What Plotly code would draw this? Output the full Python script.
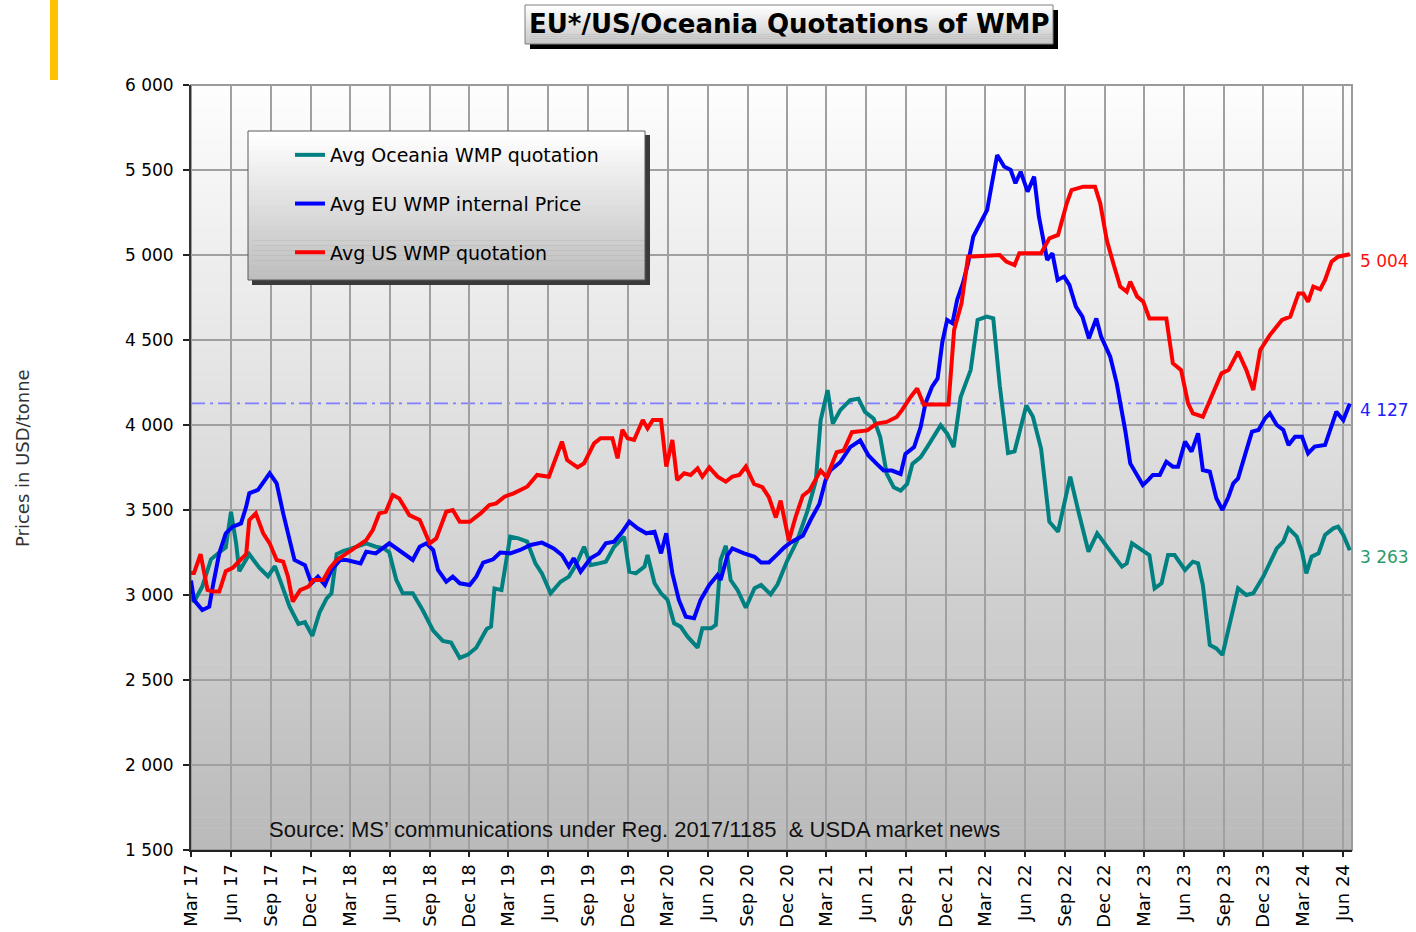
import plotly.graph_objects as go

# ---------------- data ----------------
oce_dates = ["2017-03-01","2017-03-08","2017-03-27","2017-04-16","2017-05-05","2017-05-20","2017-06-01","2017-06-13","2017-06-20","2017-07-13",
             "2017-08-05","2017-08-25","2017-09-10","2017-09-25","2017-10-14","2017-11-03","2017-11-18","2017-12-05","2017-12-22","2018-01-07",
             "2018-01-18","2018-01-30","2018-02-15","2018-03-01","2018-04-08","2018-04-30","2018-05-19","2018-05-31","2018-06-16","2018-07-01",
             "2018-07-24","2018-08-16","2018-09-09","2018-10-01","2018-10-20","2018-11-09","2018-11-28","2018-12-17","2019-01-10","2019-01-20",
             "2019-01-28","2019-02-13","2019-03-05","2019-03-24","2019-04-13","2019-05-02","2019-05-17","2019-06-06","2019-06-29","2019-07-18",
             "2019-08-03","2019-08-22","2019-09-06","2019-09-25","2019-10-11","2019-10-30","2019-11-22","2019-12-04","2019-12-19","2020-01-08",
             "2020-01-15","2020-01-31","2020-02-15","2020-03-01","2020-03-16","2020-03-31","2020-04-16","2020-05-09","2020-05-20","2020-06-09",
             "2020-06-20","2020-07-01","2020-07-13","2020-07-24","2020-08-09","2020-08-28","2020-09-17","2020-10-02","2020-10-24","2020-11-09",
             "2020-12-01","2020-12-24","2021-01-17","2021-02-05","2021-02-16","2021-03-04","2021-03-16","2021-04-02","2021-04-25","2021-05-14",
             "2021-05-29","2021-06-18","2021-07-03","2021-07-18","2021-08-03","2021-08-19","2021-09-03","2021-09-15","2021-10-04","2021-10-19",
             "2021-11-04","2021-11-19","2021-12-04","2021-12-19","2022-01-04","2022-01-27","2022-02-12","2022-03-05","2022-03-20","2022-04-04",
             "2022-04-23","2022-05-08","2022-06-04","2022-06-19","2022-07-08","2022-07-27","2022-08-16","2022-09-13","2022-10-02","2022-10-25",
             "2022-11-14","2022-11-29","2022-12-18","2023-01-10","2023-01-21","2023-02-02","2023-02-21","2023-03-14","2023-03-26","2023-04-11",
             "2023-04-26","2023-05-11","2023-06-04","2023-06-22","2023-07-04","2023-07-15","2023-07-31","2023-08-15","2023-08-29","2023-09-16",
             "2023-10-04","2023-10-23","2023-11-08","2023-12-01","2024-01-01","2024-01-16","2024-01-28","2024-02-16","2024-02-28","2024-03-09",
             "2024-03-21","2024-04-06","2024-04-21","2024-05-10","2024-05-21","2024-06-02","2024-06-17"]
oce_vals = [2990,2960,3050,3210,3250,3280,3490,3300,3140,3240,
            3160,3110,3170,3070,2930,2830,2840,2760,2900,2980,
            3010,3240,3260,3270,3304,3284,3274,3250,3090,3010,
            3010,2910,2790,2730,2720,2630,2650,2690,2800,2814,
            3039,3029,3343,3333,3314,3186,3127,3010,3078,3108,
            3176,3284,3176,3186,3196,3284,3343,3137,3127,3167,
            3235,3069,3010,2971,2833,2814,2755,2690,2804,2804,
            2824,3206,3290,3088,3029,2925,3040,3059,3004,3063,
            3201,3319,3496,3673,4027,4205,4008,4087,4146,4155,
            4077,4037,3929,3712,3634,3614,3653,3771,3811,3870,
            3939,3998,3949,3870,4165,4323,4618,4638,4628,4230,
            3835,3845,4115,4050,3860,3431,3372,3696,3490,3255,
            3363,3314,3245,3167,3186,3304,3274,3235,3039,3069,
            3235,3235,3147,3196,3186,3059,2706,2686,2647,2843,
            3039,3000,3010,3108,3274,3314,3392,3343,3255,3127,
            3225,3245,3353,3392,3402,3353,3263]

eu_dates = ["2017-03-01","2017-03-08","2017-03-27","2017-04-12","2017-04-20","2017-05-05","2017-05-20","2017-06-05","2017-06-24","2017-07-06",
            "2017-07-13","2017-08-02","2017-08-29","2017-09-14","2017-09-29","2017-10-14","2017-10-25","2017-11-18","2017-12-03","2017-12-18",
            "2018-01-03","2018-01-18","2018-02-07","2018-02-22","2018-03-08","2018-03-26","2018-04-08","2018-04-30","2018-05-31","2018-06-23",
            "2018-07-24","2018-08-09","2018-08-24","2018-09-09","2018-09-20","2018-10-09","2018-10-24","2018-11-09","2018-12-02","2018-12-17",
            "2019-01-02","2019-01-25","2019-02-10","2019-03-05","2019-03-28","2019-04-21","2019-05-17","2019-06-13","2019-07-02","2019-07-18",
            "2019-07-29","2019-08-14","2019-09-06","2019-09-25","2019-10-11","2019-10-30","2019-11-18","2019-12-04","2019-12-23","2020-01-12",
            "2020-01-31","2020-02-15","2020-02-27","2020-03-12","2020-03-27","2020-04-12","2020-05-01","2020-05-16","2020-06-05","2020-06-24",
            "2020-07-01","2020-07-17","2020-07-28","2020-08-24","2020-09-17","2020-10-02","2020-10-20","2020-11-09","2020-11-24","2020-12-09",
            "2021-01-06","2021-01-25","2021-02-13","2021-02-27","2021-03-10","2021-04-02","2021-04-25","2021-05-18","2021-06-06","2021-06-25",
            "2021-07-11","2021-07-30","2021-08-19","2021-08-30","2021-09-19","2021-10-04","2021-10-15","2021-10-30","2021-11-12","2021-11-23",
            "2021-12-04","2021-12-16","2021-12-27","2022-01-09","2022-01-21","2022-02-02","2022-02-24","2022-03-06","2022-03-17","2022-03-29",
            "2022-04-14","2022-04-29","2022-05-10","2022-05-22","2022-06-07","2022-06-22","2022-07-03","2022-07-14","2022-07-22","2022-08-03",
            "2022-08-15","2022-08-30","2022-09-11","2022-09-26","2022-10-11","2022-10-26","2022-11-12","2022-11-23","2022-12-14","2022-12-29",
            "2023-01-14","2023-01-18","2023-01-29","2023-02-14","2023-02-27","2023-03-11","2023-03-22","2023-04-07","2023-04-22","2023-05-07",
            "2023-05-19","2023-06-04","2023-06-19","2023-07-04","2023-07-15","2023-07-31","2023-08-15","2023-08-29","2023-09-12","2023-09-23",
            "2023-10-04","2023-10-20","2023-11-05","2023-11-20","2023-12-05","2023-12-16","2024-01-01","2024-01-16","2024-01-28","2024-02-12",
            "2024-02-28","2024-03-13","2024-03-28","2024-04-21","2024-05-02","2024-05-17","2024-06-02","2024-06-17"]
eu_vals = [3085,2970,2912,2931,3049,3245,3363,3402,3421,3520,
           3598,3618,3716,3657,3480,3323,3206,3176,3069,3108,
           3059,3147,3206,3206,3196,3186,3255,3245,3304,3265,
           3206,3284,3304,3265,3147,3078,3108,3069,3059,3108,
           3190,3210,3250,3245,3265,3294,3308,3274,3235,3167,
           3216,3137,3216,3245,3304,3314,3372,3431,3392,3363,
           3372,3245,3363,3127,2971,2872,2863,2971,3059,3118,
           3088,3235,3274,3245,3225,3191,3191,3240,3279,3309,
           3348,3447,3535,3673,3732,3781,3870,3909,3821,3771,
           3732,3732,3712,3830,3870,3988,4126,4224,4274,4490,
           4618,4598,4736,4833,4951,5108,5216,5265,5422,5588,
           5520,5500,5422,5490,5373,5461,5225,5088,4971,5010,
           4853,4873,4824,4696,4637,4510,4627,4520,4402,4245,
           4029,3961,3774,3706,3647,3676,3706,3706,3784,3755,
           3755,3902,3843,3951,3735,3725,3569,3500,3578,3657,
           3686,3824,3961,3971,4039,4069,4000,3971,3882,3931,
           3931,3833,3873,3882,3961,4078,4029,4127]

us_dates = ["2017-03-01","2017-03-08","2017-03-23","2017-04-08","2017-04-20","2017-05-05","2017-05-20","2017-06-05","2017-06-20","2017-07-06",
            "2017-07-13","2017-07-28","2017-08-14","2017-08-29","2017-09-14","2017-09-29","2017-10-10","2017-10-21","2017-11-07","2017-11-26",
            "2017-12-07","2017-12-30","2018-01-14","2018-01-30","2018-02-22","2018-03-15","2018-04-08","2018-04-23","2018-05-08","2018-05-23",
            "2018-06-08","2018-06-23","2018-07-16","2018-08-09","2018-09-01","2018-09-16","2018-10-09","2018-10-24","2018-11-09","2018-12-02",
            "2018-12-27","2019-01-16","2019-02-01","2019-02-20","2019-03-13","2019-04-13","2019-05-06","2019-06-02","2019-06-17","2019-07-02",
            "2019-07-14","2019-08-07","2019-08-22","2019-09-14","2019-09-29","2019-10-26","2019-11-07","2019-11-18","2019-11-30","2019-12-15",
            "2020-01-04","2020-01-15","2020-01-27","2020-02-15","2020-02-27","2020-03-12","2020-03-23","2020-04-08","2020-04-23","2020-05-09",
            "2020-05-20","2020-06-05","2020-06-24","2020-07-13","2020-07-28","2020-08-13","2020-08-28","2020-09-16","2020-10-05","2020-10-20",
            "2020-11-05","2020-11-16","2020-12-05","2020-12-20","2021-01-06","2021-01-21","2021-02-16","2021-03-02","2021-03-25","2021-04-10",
            "2021-04-29","2021-06-03","2021-06-25","2021-07-18","2021-08-10","2021-08-22","2021-09-11","2021-09-26","2021-10-11","2021-12-07",
            "2021-12-20","2022-01-06","2022-01-21","2022-04-04","2022-04-19","2022-05-08","2022-05-19","2022-07-08","2022-07-27","2022-08-16",
            "2022-09-05","2022-09-16","2022-10-13","2022-11-09","2022-11-21","2022-12-06","2022-12-21","2023-01-06","2023-01-21","2023-01-29",
            "2023-02-14","2023-02-28","2023-03-14","2023-04-22","2023-05-07","2023-05-26","2023-06-11","2023-06-22","2023-07-15","2023-08-04",
            "2023-08-27","2023-09-12","2023-10-04","2023-10-23","2023-11-08","2023-11-24","2023-12-16","2024-01-13","2024-02-01","2024-02-20",
            "2024-03-02","2024-03-13","2024-03-25","2024-04-10","2024-04-21","2024-05-06","2024-05-21","2024-06-17"]
us_vals = [3130,3130,3240,3030,3020,3020,3140,3160,3200,3240,
           3441,3480,3363,3304,3206,3196,3108,2961,3029,3049,
           3088,3088,3157,3206,3245,3284,3323,3382,3480,3490,
           3588,3568,3470,3441,3304,3333,3490,3500,3431,3431,
           3480,3529,3539,3578,3598,3637,3706,3696,3804,3902,
           3794,3751,3775,3892,3922,3922,3804,3971,3922,3912,
           4029,3980,4029,4029,3755,3912,3676,3716,3706,3745,
           3696,3751,3696,3667,3696,3706,3755,3653,3634,3575,
           3456,3555,3319,3456,3584,3614,3732,3693,3840,3850,
           3958,3968,4008,4018,4047,4087,4165,4215,4120,4120,
           4559,4716,4990,5000,4961,4941,5010,5010,5098,5118,
           5304,5382,5402,5402,5304,5088,4951,4814,4784,4843,
           4755,4725,4627,4627,4363,4323,4127,4069,4049,4167,
           4304,4323,4431,4323,4206,4441,4529,4618,4637,4774,
           4774,4725,4814,4798,4853,4961,4990,5004]

series_names = ["Avg Oceania WMP quotation", "Avg EU WMP internal Price", "Avg US WMP quotation"]
title_text = "EU*/US/Oceania Quotations of WMP"
y_title = "Prices in USD/tonne"
source_text = "Source: MS\u2019 communications under Reg. 2017/1185  &amp; USDA market news"

# ---------------- layout geometry ----------------
W, H = 1416, 932
L, R, T, B = 191, 64, 85, 82
PW, PH = W - L - R, H - T - B


def px(x):
    return (x - L) / PW


def py(y):
    return (H - B - y) / PH


FONT = "DejaVu Sans"
C_OCE, C_EU, C_US = "#008080", "#0000FF", "#FF0000"

fig = go.Figure()
for dts, vals, name, col in [(oce_dates, oce_vals, series_names[0], C_OCE),
                             (eu_dates, eu_vals, series_names[1], C_EU),
                             (us_dates, us_vals, series_names[2], C_US)]:
    fig.add_trace(go.Scatter(x=dts, y=vals, mode="lines", name=name, legendgroup=name,
                             line=dict(color=col, width=4), hoverinfo="x+y+name"))

shapes = []


def gradient(x0, x1, y0, y1, top, bottom, n, layer):
    # y0 = top pixel, y1 = bottom pixel
    for i in range(n):
        t = i / (n - 1)
        c = [round(top[k] + (bottom[k] - top[k]) * t) for k in range(3)]
        ya = y0 + (y1 - y0) * i / n
        yb = y0 + (y1 - y0) * (i + 1) / n + 0.6
        shapes.append(dict(type="rect", xref="paper", yref="paper", x0=px(x0), x1=px(x1),
                           y0=py(min(yb, y1)), y1=py(ya), layer=layer,
                           fillcolor="rgb(%d,%d,%d)" % tuple(c), line=dict(width=0)))


# plot-area background gradient
gradient(L, W - R, T, H - B, (253, 253, 253), (186, 186, 186), 70, "below")
# plot-area border
shapes.append(dict(type="rect", xref="paper", yref="paper", x0=0, x1=1, y0=0, y1=1,
                   line=dict(color="#9a9a9a", width=2), layer="between"))
# last EU value reference line
shapes.append(dict(type="line", xref="paper", yref="y", x0=0, x1=1, y0=eu_vals[-1], y1=eu_vals[-1],
                   line=dict(color="#8080ff", width=1.6, dash="14px,5px,3px,5px"), layer="between"))

# title box with shadow
shapes.append(dict(type="rect", xref="paper", yref="paper", x0=px(530), x1=px(1058), y0=py(49), y1=py(10),
                   fillcolor="#000000", line=dict(width=0), layer="above"))
gradient(525, 1053, 5, 44, (255, 255, 255), (200, 200, 200), 20, "above")
shapes.append(dict(type="rect", xref="paper", yref="paper", x0=px(525), x1=px(1053), y0=py(44), y1=py(5),
                   line=dict(color="#7f7f7f", width=1), layer="above"))

# legend box with shadow
shapes.append(dict(type="rect", xref="paper", yref="paper", x0=px(252), x1=px(650), y0=py(285), y1=py(135),
                   fillcolor="#3a3a3a", line=dict(width=0), layer="above"))
gradient(248, 645, 131, 280, (255, 255, 255), (190, 190, 190), 30, "above")
shapes.append(dict(type="rect", xref="paper", yref="paper", x0=px(248), x1=px(645), y0=py(280), y1=py(131),
                   line=dict(color="#5a5a5a", width=1), layer="above"))

# yellow accent bar
shapes.append(dict(type="rect", xref="paper", yref="paper", x0=px(50), x1=px(58), y0=py(80), y1=py(0),
                   fillcolor="#FFC000", line=dict(width=0), layer="above"))


def fmt(v):
    return "{:,}".format(int(v)).replace(",", " ")


annotations = [
    dict(text="<b>%s</b>" % title_text, xref="paper", yref="paper", x=px(789), y=py(24),
         xanchor="center", yanchor="middle", showarrow=False,
         font=dict(family=FONT, size=26, color="#000000")),
    dict(text=y_title, xref="paper", yref="paper", x=px(22), y=py(458), textangle=-90,
         xanchor="center", yanchor="middle", showarrow=False,
         font=dict(family=FONT, size=18, color="#333333")),
    dict(text=source_text, xref="paper", yref="paper", x=px(267), y=py(829),
         xanchor="left", yanchor="middle", showarrow=False,
         font=dict(family="Liberation Sans", size=22, color="#111111")),
]
for dts, vals, col in [(us_dates, us_vals, "#FF1010"), (eu_dates, eu_vals, "#2020FF"), (oce_dates, oce_vals, "#2E9A6A")]:
    annotations.append(dict(text=fmt(vals[-1]), x=dts[-1], y=vals[-1], xref="x", yref="y",
                            xanchor="left", yanchor="middle", xshift=8, yshift=-7, showarrow=False,
                            font=dict(family=FONT, size=17, color=col)))

fig.update_layout(
    width=W, height=H,
    margin=dict(l=L, r=R, t=T, b=B, autoexpand=False),
    paper_bgcolor="#ffffff", plot_bgcolor="rgba(0,0,0,0)",
    separators=". ",
    showlegend=True,
    legend=dict(x=px(290), y=py(136), xanchor="left", yanchor="top",
                bgcolor="rgba(0,0,0,0)", borderwidth=0, tracegroupgap=21,
                font=dict(family=FONT, size=19, color="#000000"), traceorder="grouped"),
    shapes=shapes, annotations=annotations,
    xaxis=dict(type="date", range=["2017-03-01", "2024-06-22"], tick0="2017-03-01", dtick="M3",
               tickformat="%b %y", tickangle=-90, ticks="outside", ticklen=5, tickwidth=1.5, tickcolor="#222222",
               showgrid=True, gridcolor="#a0a0a0", gridwidth=2, showline=True, linecolor="#222222", linewidth=2,
               tickfont=dict(family=FONT, size=18, color="#000000"), zeroline=False, automargin=False),
    yaxis=dict(range=[1500, 6000], dtick=500, tick0=1500, tickformat=",d", ticks="outside", ticklen=6,
               tickwidth=1.5, tickcolor="#222222", ticklabelstandoff=6,
               showgrid=True, gridcolor="#a0a0a0", gridwidth=2, showline=True, linecolor="#333333", linewidth=2,
               tickfont=dict(family=FONT, size=17, color="#000000"), zeroline=False, automargin=False),
)

fig.write_html("out.html", config={"displayModeBar": False},
               post_script="document.body.style.margin='0px';")
